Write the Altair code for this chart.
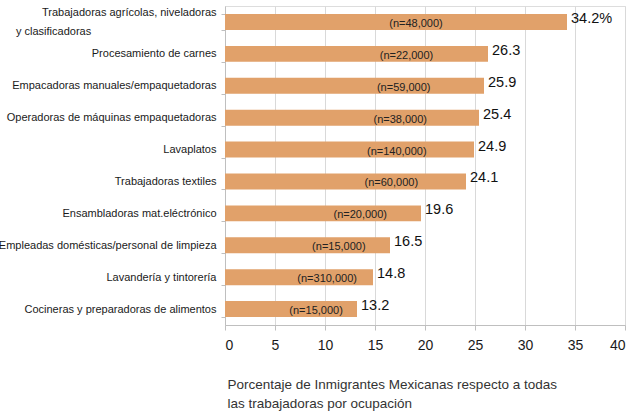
import altair as alt
import pandas as pd

categories = [
    "Trabajadoras agrícolas, niveladoras y clasificadoras",
    "Procesamiento de carnes",
    "Empacadoras manuales/empaquetadoras",
    "Operadoras de máquinas empaquetadoras",
    "Lavaplatos",
    "Trabajadoras textiles",
    "Ensambladoras mat.eléctrónico",
    "Empleadas domésticas/personal de limpieza",
    "Lavandería y tintorería",
    "Cocineras y preparadoras de alimentos",
]
values = [34.2, 26.3, 25.9, 25.4, 24.9, 24.1, 19.6, 16.5, 14.8, 13.2]
value_labels = ["34.2%", "26.3", "25.9", "25.4", "24.9", "24.1", "19.6", "16.5", "14.8", "13.2"]
n_values = [48000, 22000, 59000, 38000, 140000, 60000, 20000, 15000, 310000, 15000]
x_ticks = [0, 5, 10, 15, 20, 25, 30, 35, 40]

df = pd.DataFrame({"cat": categories, "v": values, "vl": value_labels, "n": n_values})

REG = "Liberation Sans, Arial, sans-serif"
FIRST = categories[0]

label_expr = (
    "datum.value == '" + FIRST + "' ? "
    "['Trabajadoras agrícolas, niveladoras', 'y  clasificadoras" + "\u00a0" * 41 + "\u200b'] : datum.label"
)

y_enc = alt.Y(
    "cat:N",
    sort=categories,
    scale=alt.Scale(paddingInner=0.5, paddingOuter=0.25),
    axis=alt.Axis(
        title=None,
        labelFont=REG,
        labelFontSize=11,
        labelColor="#1a1a1a",
        labelPadding=5,
        labelLimit=260,
        labelLineHeight=19,
        labelExpr=label_expr,
        labelOffset={"condition": {"test": "datum.value == '" + FIRST + "'", "value": -9}, "value": 0},
        tickBand="extent",
        tickSize=4,
        tickColor="#bfbfbf",
        domainColor="#bfbfbf",
        grid=False,
    ),
)

x_enc = alt.X(
    "v:Q",
    scale=alt.Scale(domain=[0, 40], nice=False),
    axis=alt.Axis(
        values=x_ticks,
        title=["Porcentaje de Inmigrantes Mexicanas respecto a todas", "las trabajadoras por ocupación"],
        titleFont=REG,
        titleFontSize=13.5,
        titleFontWeight="normal",
        titleColor="#333333",
        titleAnchor="start",
        titleAlign="left",
        titleBaseline="alphabetic",
        titleX=2,
        titleY=63,
        titleLineHeight=19,
        labelFont=REG,
        labelFontSize=14,
        labelColor="#1a1a1a",
        labelPadding=8,
        tickSize=5,
        tickColor="#bfbfbf",
        domainColor="#bfbfbf",
        gridColor="#d9d9d9",
        grid=True,
    ),
)

bars = alt.Chart(df).mark_bar(color="#E1A16A").encode(y=y_enc, x=x_enc)

val_text = alt.Chart(df).mark_text(
    align="left", baseline="middle", dx=4, dy=-3, font=REG, fontSize=14.5, color="#111111"
).encode(y=alt.Y("cat:N", sort=categories), x=alt.X("v:Q"), text="vl:N")

n_text = alt.Chart(df).transform_calculate(
    nl="'(n=' + format(datum.n, ',') + ')'",
    nx="min(datum.v * 0.69, 19.1)",
).mark_text(
    align="center", baseline="middle", dy=2, font=REG, fontSize=11, color="#222222"
).encode(y=alt.Y("cat:N", sort=categories), x=alt.X("nx:Q"), text="nl:N")

chart = (
    alt.layer(bars, val_text, n_text)
    .properties(
        width=400,
        height=319,
        autosize=alt.AutoSizeParams(type="none"),
        padding={"left": 225, "top": 6, "right": 7, "bottom": 89},
    )
    .configure_view(stroke="#d9d9d9")
    .configure(background="white")
)

chart.save("out.html", embed_options={"renderer": "svg", "actions": False})
